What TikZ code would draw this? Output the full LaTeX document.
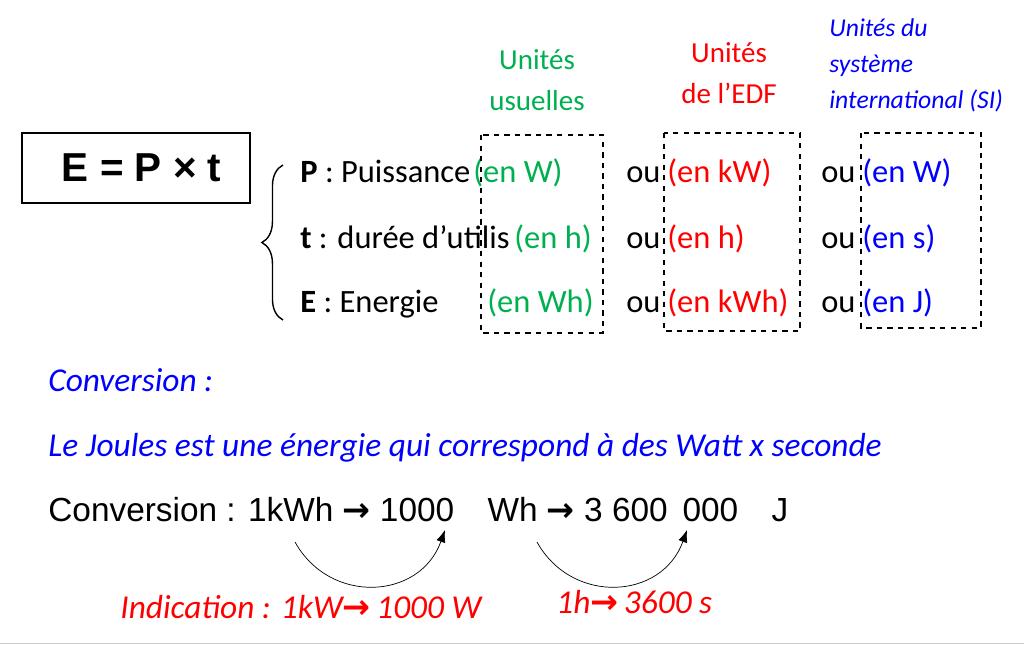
\documentclass[tikz,border=0pt]{standalone}
\usepackage{fontspec}
\setmainfont{Carlito}
\newfontfamily\arial{Liberation Sans}
\newfontfamily\dejavu{DejaVu Sans}
\usetikzlibrary{decorations.pathreplacing,arrows.meta}
\definecolor{vert}{RGB}{0,176,80}
\definecolor{bleu}{RGB}{0,0,255}
\definecolor{rouge}{RGB}{255,0,0}
\newcommand{\fleche}{{\dejavu\bfseries →}}
\tikzset{
  txt/.style={anchor=base west, inner sep=0pt, font=\fontsize{18.5}{20}\selectfont},
  itxt/.style={anchor=base west, inner sep=0pt, font=\itshape\fontsize{19}{20}\selectfont},
  hdr/.style={align=center, inner sep=0pt, font=\fontsize{16.5}{23}\selectfont},
  unitbox/.style={draw, dashed, thick},
}
\begin{document}
\begin{tikzpicture}[x=0.02cm, y=-0.02cm]
  \useasboundingbox (0,0) rectangle (1024,646);
  \draw[gray!40] (0,643) -- (1024,643);

  % formule
  \node[draw, thick, minimum width=4.56cm, minimum height=1.4cm, font=\arial\bfseries\fontsize{23}{26}\selectfont] (formule) at (136,168) {\ E = P × t};
  \draw[decorate, decoration={brace, amplitude=12pt}, thick] (283,320) -- (283,165);

  % en-tetes
  \node[hdr, vert] (usu) at (537,80) {Unités\\usuelles};
  \node[hdr, rouge] (edf) at (729,73) {Unités\\de l’EDF};
  \node[hdr, bleu, anchor=north west, align=left, font=\itshape\fontsize{14.6}{20.5}\selectfont] (si) at (829,18) {Unités du\\système\\international (SI)};

  % grandeurs
  \node[txt] (p) at (300,182) {\textbf{P} : Puissance};
  \node[txt] (t) at (300,248) {\textbf{t} : durée d’utilis};
  \node[txt] (e) at (300,312) {\textbf{E} : Energie};
  \foreach \y/\x/\a/\b/\c in {182/473/W/kW/W, 248/514/h/h/s, 312/487/Wh/kWh/J}{
    \node[txt, vert] at (\x,\y) {(en \a)};
    \node[txt] at (626,\y) {ou};
    \node[txt, rouge] at (667,\y) {(en \b)};
    \node[txt] at (821,\y) {ou};
    \node[txt, bleu] at (862,\y) {(en \c)};
  }
  \draw[unitbox] (481,135) rectangle (603,333);
  \draw[unitbox] (664,133) rectangle (800,331);
  \draw[unitbox] (861,133) rectangle (981,328);

  % conversion
  \node[itxt, bleu] (conv) at (48,391) {Conversion :};
  \node[itxt, bleu] (joule) at (48,456) {Le Joules est une énergie qui correspond à des Watt x seconde};
  \node[txt, font=\arial\fontsize{19}{20}\selectfont] (ligne) at (48,521) {Conversion : 1kWh \fleche{} 1000\quad Wh \fleche{} 3 600\, 000\quad J};

  \coordinate (a1) at (295,542);
  \coordinate (b1) at (445,530);
  \coordinate (a2) at (537,542);
  \coordinate (b2) at (687,530);
  \draw[-{Latex[length=7pt]}] (a1) .. controls (330,605) and (420,600) .. (b1);
  \draw[-{Latex[length=7pt]}] (a2) .. controls (572,605) and (662,600) .. (b2);

  \node[itxt, rouge] (ind) at (120,618) {Indication : 1kW\fleche\,1000 W};
  \node[itxt, rouge] (h) at (556,613) {1h\fleche\,3600 s};
\end{tikzpicture}
\end{document}
